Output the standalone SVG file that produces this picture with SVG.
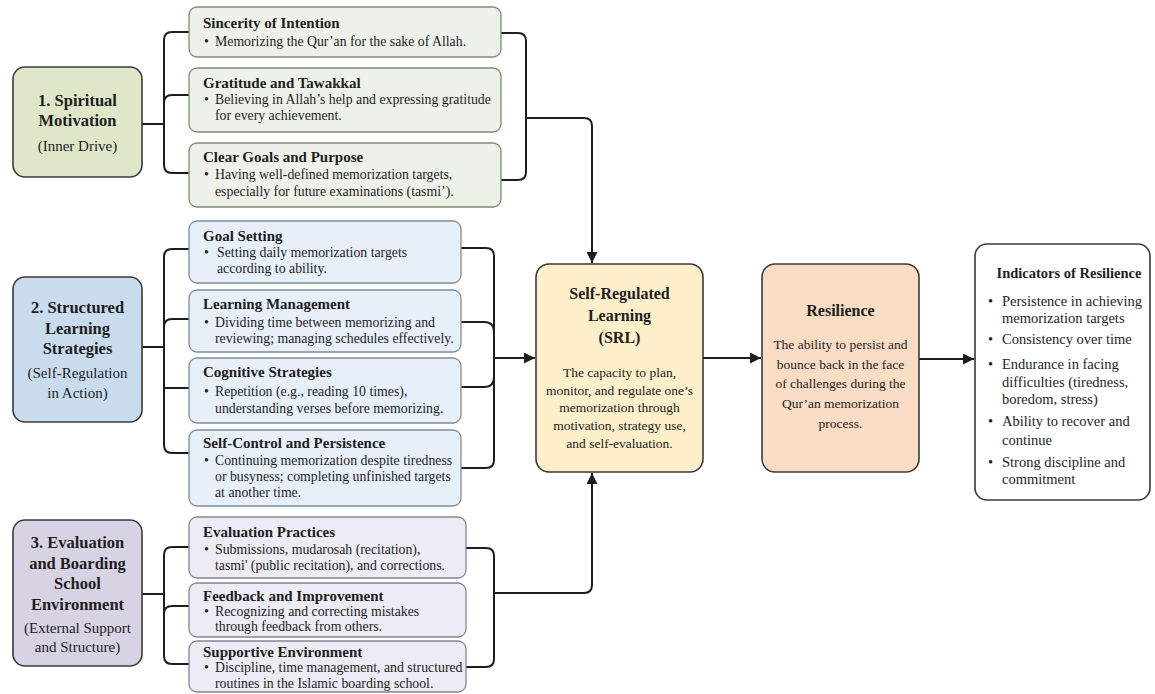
<svg xmlns="http://www.w3.org/2000/svg" width="1155" height="694" viewBox="0 0 1155 694">
<style>
text{font-family:"Liberation Serif","Times New Roman",serif;fill:#1e1e1e}
.h{font-weight:bold;font-size:16.5px;text-anchor:middle}
.hs{font-size:15px;text-anchor:middle}
.t{font-weight:bold;font-size:15px}
.b{font-size:13.8px}
.c{stroke:#1e1e1e;stroke-width:2;fill:none}
.m1{fill:#dfe7c9;stroke:#3a3a3a;stroke-width:1.6}
.s1{fill:#eef1ea;stroke:#7f8a79;stroke-width:1.3}
.m2{fill:#c9dcee;stroke:#3a3a3a;stroke-width:1.6}
.s2{fill:#e7eff9;stroke:#7f8ca0;stroke-width:1.3}
.m3{fill:#d7d3e3;stroke:#3a3a3a;stroke-width:1.6}
.s3{fill:#edebf3;stroke:#878595;stroke-width:1.3}
.ct{text-anchor:middle}
.bt{font-weight:bold;font-size:16px;text-anchor:middle}
.cb{font-size:13.5px;text-anchor:middle}
</style>
<defs>
<marker id="arr" viewBox="0 0 10 10" refX="10" refY="5" markerWidth="11" markerHeight="11" markerUnits="userSpaceOnUse" orient="auto">
<path d="M0,0 L10,5 L0,10 z" fill="#1e1e1e"/>
</marker>
</defs>
<rect width="1155" height="694" fill="#ffffff"/>

<g id="connectors">
<path class="c" d="M142,124 H164"/>
<path class="c" d="M189,32 H172 Q164,32 164,40 V165 Q164,173 172,173 H189"/>
<path class="c" d="M164,103 Q164,95 172,95 H189"/>
<path class="c" d="M501,33 H518 Q526,33 526,41 V172 Q526,180 518,180 H501"/>
<path class="c" d="M526,118 H584 Q592,118 592,126 V263" marker-end="url(#arr)"/>

<path class="c" d="M142,347 H164"/>
<path class="c" d="M189,249 H172 Q164,249 164,257 V445 Q164,453 172,453 H189"/>
<path class="c" d="M164,327 Q164,319 172,319 H189"/>
<path class="c" d="M164,388 H189"/>
<path class="c" d="M461,248 H486 Q494,248 494,256 V460 Q494,468 486,468 H461"/>
<path class="c" d="M461,322 H484 Q494,322 494,332"/>
<path class="c" d="M461,387 H484 Q494,387 494,377"/>
<path class="c" d="M494,358 H535" marker-end="url(#arr)"/>

<path class="c" d="M142,594 H164"/>
<path class="c" d="M189,547 H172 Q164,547 164,555 V656 Q164,664 172,664 H189"/>
<path class="c" d="M164,614 Q164,606 172,606 H189"/>
<path class="c" d="M466,548 H486 Q494,548 494,556 V659 Q494,667 486,667 H466"/>
<path class="c" d="M494,593 H584 Q592,593 592,585 V473" marker-end="url(#arr)"/>

<path class="c" d="M703,358 H761" marker-end="url(#arr)"/>
<path class="c" d="M919,359 H974" marker-end="url(#arr)"/>
</g>

<g id="spiritual-motivation">
<rect class="m1" x="13" y="67" width="129" height="110" rx="12"/>
<text class="h" x="77.5" y="106">1. Spiritual</text>
<text class="h" x="77.5" y="126">Motivation</text>
<text class="hs" x="77.5" y="151">(Inner Drive)</text>
</g>
<g id="sincerity">
<rect class="s1" x="189" y="7" width="312" height="50" rx="8"/>
<text class="t" x="203" y="28">Sincerity of Intention</text>
<text class="b" x="204" y="46">•</text>
<text class="b" x="215" y="46">Memorizing the Qur’an for the sake of Allah.</text>
</g>
<g id="gratitude">
<rect class="s1" x="189" y="68" width="312" height="64" rx="8"/>
<text class="t" x="203" y="88">Gratitude and Tawakkal</text>
<text class="b" x="204" y="104">•</text>
<text class="b" x="215" y="104">Believing in Allah’s help and expressing gratitude</text>
<text class="b" x="215" y="120">for every achievement.</text>
</g>
<g id="clear-goals">
<rect class="s1" x="189" y="143" width="312" height="64" rx="8"/>
<text class="t" x="203" y="162">Clear Goals and Purpose</text>
<text class="b" x="204" y="179">•</text>
<text class="b" x="215" y="179">Having well-defined memorization targets,</text>
<text class="b" x="215" y="196">especially for future examinations (tasmi’).</text>
</g>

<g id="structured-learning">
<rect class="m2" x="13" y="277" width="129" height="145" rx="12"/>
<text class="h" x="77.5" y="313">2. Structured</text>
<text class="h" x="77.5" y="334">Learning</text>
<text class="h" x="77.5" y="354">Strategies</text>
<text class="hs" x="77.5" y="378">(Self-Regulation</text>
<text class="hs" x="77.5" y="398">in Action)</text>
</g>
<g id="goal-setting">
<rect class="s2" x="189" y="221" width="272" height="62" rx="8"/>
<text class="t" x="203" y="241">Goal Setting</text>
<text class="b" x="204" y="257">•</text>
<text class="b" x="217" y="257">Setting daily memorization targets</text>
<text class="b" x="217" y="273">according to ability.</text>
</g>
<g id="learning-management">
<rect class="s2" x="189" y="290" width="272" height="62" rx="8"/>
<text class="t" x="203" y="309">Learning Management</text>
<text class="b" x="204" y="327">•</text>
<text class="b" x="215" y="327">Dividing time between memorizing and</text>
<text class="b" x="215" y="343">reviewing; managing schedules effectively.</text>
</g>
<g id="cognitive-strategies">
<rect class="s2" x="189" y="358" width="272" height="65" rx="8"/>
<text class="t" x="203" y="377">Cognitive Strategies</text>
<text class="b" x="204" y="396">•</text>
<text class="b" x="215" y="396"> Repetition (e.g., reading 10 times),</text>
<text class="b" x="215" y="413">understanding verses before memorizing.</text>
</g>
<g id="self-control">
<rect class="s2" x="189" y="430" width="272" height="76" rx="8"/>
<text class="t" x="203" y="448">Self-Control and Persistence</text>
<text class="b" x="204" y="465">•</text>
<text class="b" x="215" y="465">Continuing memorization despite tiredness</text>
<text class="b" x="215" y="481">or busyness; completing unfinished targets</text>
<text class="b" x="215" y="497">at another time.</text>
</g>

<g id="evaluation-environment">
<rect class="m3" x="13" y="520" width="129" height="146" rx="12"/>
<text class="h" x="77.5" y="548">3. Evaluation</text>
<text class="h" x="77.5" y="569">and Boarding</text>
<text class="h" x="77.5" y="589">School</text>
<text class="h" x="77.5" y="610">Environment</text>
<text class="hs" x="77.5" y="633">(External Support</text>
<text class="hs" x="77.5" y="652">and Structure)</text>
</g>
<g id="evaluation-practices">
<rect class="s3" x="189" y="517" width="277" height="61" rx="8"/>
<text class="t" x="203" y="537">Evaluation Practices</text>
<text class="b" x="204" y="554">•</text>
<text class="b" x="215" y="554"> Submissions, mudarosah (recitation),</text>
<text class="b" x="215" y="570">tasmi' (public recitation), and corrections.</text>
</g>
<g id="feedback-improvement">
<rect class="s3" x="189" y="583" width="277" height="54" rx="8"/>
<text class="t" x="203" y="601">Feedback and Improvement</text>
<text class="b" x="204" y="616">•</text>
<text class="b" x="215" y="616">Recognizing and correcting mistakes</text>
<text class="b" x="215" y="631">through feedback from others.</text>
</g>
<g id="supportive-environment">
<rect class="s3" x="189" y="641" width="277" height="51" rx="8"/>
<text class="t" x="203" y="657">Supportive Environment</text>
<text class="b" x="204" y="672">•</text>
<text class="b" x="215" y="672">Discipline, time management, and structured</text>
<text class="b" x="215" y="688">routines in the Islamic boarding school.</text>
</g>

<g id="srl">
<rect x="536" y="264" width="167" height="208" rx="13" fill="#fcefca" stroke="#3a3a3a" stroke-width="1.6"/>
<text class="bt" x="619.5" y="299">Self-Regulated</text>
<text class="bt" x="619.5" y="321">Learning</text>
<text class="bt" x="619.5" y="343">(SRL)</text>
<text class="cb" x="619.5" y="377">The capacity to plan,</text>
<text class="cb" x="619.5" y="395">monitor, and regulate one’s</text>
<text class="cb" x="619.5" y="412">memorization through</text>
<text class="cb" x="619.5" y="430">motivation, strategy use,</text>
<text class="cb" x="619.5" y="448">and self-evaluation.</text>
</g>

<g id="resilience">
<rect x="762" y="264" width="157" height="208" rx="13" fill="#f9dcc4" stroke="#3a3a3a" stroke-width="1.6"/>
<text class="bt" x="840.5" y="316">Resilience</text>
<text class="cb" x="840.5" y="349">The ability to persist and</text>
<text class="cb" x="840.5" y="369">bounce back in the face</text>
<text class="cb" x="840.5" y="388">of challenges during the</text>
<text class="cb" x="840.5" y="408">Qur’an memorization</text>
<text class="cb" x="840.5" y="428">process.</text>
</g>

<g id="indicators">
<rect x="975" y="244" width="175" height="256" rx="12" fill="#ffffff" stroke="#3a3a3a" stroke-width="1.6"/>
<text class="ct" x="1069" y="278" style="font-weight:bold;font-size:14.5px">Indicators of Resilience</text>
<g style="font-size:14.5px">
<text x="988" y="306">•</text><text x="1002" y="306">Persistence in achieving</text>
<text x="1002" y="323">memorization targets</text>
<text x="988" y="344">•</text><text x="1002" y="344">Consistency over time</text>
<text x="988" y="369">•</text><text x="1002" y="369">Endurance in facing</text>
<text x="1002" y="387">difficulties (tiredness,</text>
<text x="1002" y="404">boredom, stress)</text>
<text x="988" y="426">•</text><text x="1002" y="426">Ability to recover and</text>
<text x="1002" y="445">continue</text>
<text x="988" y="467">•</text><text x="1002" y="467">Strong discipline and</text>
<text x="1002" y="484">commitment</text>
</g>
</g>
</svg>
